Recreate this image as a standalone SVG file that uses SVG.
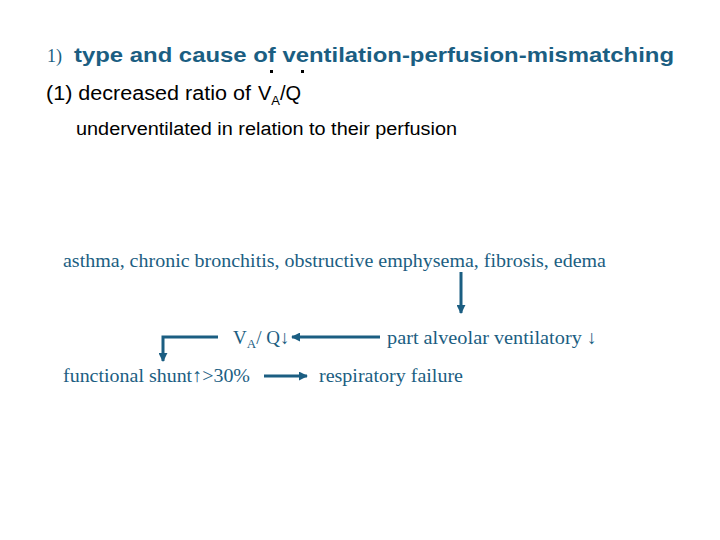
<svg xmlns="http://www.w3.org/2000/svg" width="720" height="540" viewBox="0 0 720 540">
<defs>
<style>
.teal{fill:#1b5e82}
.hdr{font-family:"Liberation Sans",Arial,sans-serif;font-weight:bold;font-size:21px}
.num{font-family:"Liberation Serif","Times New Roman",serif;font-size:18px}
.sans{font-family:"Liberation Sans",Arial,sans-serif;fill:#000}
.ser{font-family:"Liberation Serif","Times New Roman",serif;font-size:19px;fill:#1b5e82}
.conn{stroke:#1b5e82;stroke-width:3;fill:none}
</style>
<marker id="ah" viewBox="0 0 10 10" refX="9" refY="5" markerWidth="3" markerHeight="3" orient="auto" markerUnits="strokeWidth">
<path d="M0,0 L10,5 L0,10 z" fill="#1b5e82"/>
</marker>
</defs>
<rect width="720" height="540" fill="#fff"/>
<g id="title">
<text x="47" y="62" class="num teal">1)</text>
<text x="74" y="62" class="hdr teal" textLength="600" lengthAdjust="spacingAndGlyphs">type and cause of ventilation-perfusion-mismatching</text>
</g>
<g id="subtitle">
<text x="46" y="100" class="sans" font-size="20" textLength="205" lengthAdjust="spacingAndGlyphs">(1) decreased ratio of</text>
<text x="258" y="100" class="sans" font-size="20">V<tspan font-size="13" dy="5">A</tspan><tspan dy="-5">/Q</tspan></text>
<rect x="270" y="70" width="3" height="3" fill="#000"/>
<rect x="301" y="70" width="3" height="3" fill="#000"/>
</g>
<g id="desc">
<text x="76" y="135" class="sans" font-size="18" textLength="381" lengthAdjust="spacingAndGlyphs">underventilated in relation to their perfusion</text>
</g>
<g id="causes">
<text x="63" y="267" class="ser" textLength="543" lengthAdjust="spacingAndGlyphs">asthma, chronic bronchitis, obstructive emphysema, fibrosis, edema</text>
</g>
<g id="vaq">
<text x="233" y="344" class="ser">V<tspan font-size="13" dy="4">A</tspan><tspan dy="-4">/ Q↓</tspan></text>
</g>
<g id="part">
<text x="387" y="344" class="ser" textLength="210" lengthAdjust="spacingAndGlyphs">part alveolar ventilatory ↓</text>
</g>
<g id="shunt">
<text x="63" y="382" class="ser" textLength="187" lengthAdjust="spacingAndGlyphs">functional shunt↑&gt;30%</text>
</g>
<g id="failure">
<text x="319" y="382" class="ser" textLength="144" lengthAdjust="spacingAndGlyphs">respiratory failure</text>
</g>
<g id="connectors">
<line x1="461" y1="272" x2="461" y2="313" class="conn" marker-end="url(#ah)"/>
<line x1="380" y1="337" x2="292" y2="337" class="conn" marker-end="url(#ah)"/>
<polyline points="218,337 163,337 163,361" class="conn" marker-end="url(#ah)"/>
<line x1="264" y1="376" x2="307" y2="376" class="conn" marker-end="url(#ah)"/>
</g>
</svg>
